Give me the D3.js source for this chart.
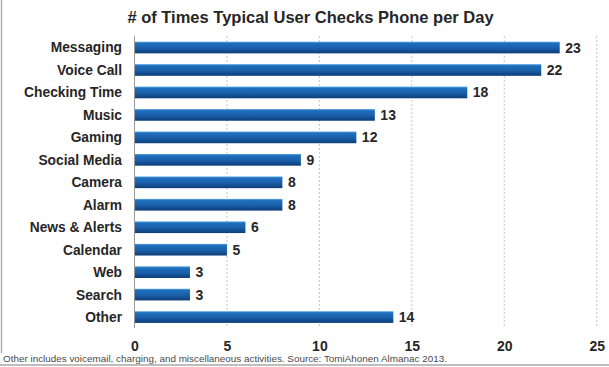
<!DOCTYPE html>
<html>
<head>
<meta charset="utf-8">
<script src="https://cdn.jsdelivr.net/npm/d3@7"></script>
<style>
  body { margin: 0; background: #fff; }
  svg { display: block; font-family: "Liberation Sans", Arial, sans-serif; }
  .cat { font-weight: bold; font-size: 13.8px; fill: #262626; }
  .val { font-weight: bold; font-size: 14px; fill: #262626; }
  .tick text { font-weight: bold; font-size: 14px; fill: #262626; }
</style>
</head>
<body>
<svg id="chart" width="609" height="367"></svg>
<script>
// data
const categories = ["Messaging", "Voice Call", "Checking Time", "Music", "Gaming", "Social Media",
  "Camera", "Alarm", "News & Alerts", "Calendar", "Web", "Search", "Other"];
const checksPerDay = [23, 22, 18, 13, 12, 9, 8, 8, 6, 5, 3, 3, 14];
const xTicks = [0, 5, 10, 15, 20, 25];
const title = "# of Times Typical User Checks Phone per Day";
const footnote = "Other includes voicemail, charging, and miscellaneous activities. Source: TomiAhonen Almanac 2013.";

const svg = d3.select("#chart");
const W = 609, H = 367;
const plotLeft = 134.5, plotRight = 596.7, plotTop = 36, plotBottom = 328;

const x = d3.scaleLinear().domain([0, 25]).range([plotLeft, plotRight]);
const y = d3.scaleBand()
  .domain(categories)
  .range([36.3, 328.3])
  .paddingInner(0.48)
  .paddingOuter(0.24);

const defs = svg.append("defs");
const grad = defs.append("linearGradient")
  .attr("id", "barGrad").attr("x1", 0).attr("y1", 0).attr("x2", 0).attr("y2", 1);
grad.append("stop").attr("offset", "0%").attr("stop-color", "#5aa9e6");
grad.append("stop").attr("offset", "14%").attr("stop-color", "#1f6fbd");
grad.append("stop").attr("offset", "55%").attr("stop-color", "#1a5fa8");
grad.append("stop").attr("offset", "100%").attr("stop-color", "#0c3d78");

// frame
svg.append("line").attr("x1", 1.5).attr("x2", 1.5).attr("y1", 0).attr("y2", 353)
  .attr("stroke", "#b0b0b0").attr("stroke-width", 1.5);
svg.append("line").attr("x1", 0).attr("x2", W).attr("y1", 365).attr("y2", 365)
  .attr("stroke", "#a8a8a8").attr("stroke-width", 1.5);

// title
svg.append("text")
  .attr("x", 310.5).attr("y", 23)
  .attr("text-anchor", "middle")
  .attr("font-weight", "bold").attr("font-size", 16.5).attr("fill", "#262626")
  .text(title);

// gridlines
svg.append("g").selectAll("line")
  .data(xTicks.filter(d => d > 0))
  .join("line")
  .attr("x1", d => x(d)).attr("x2", d => x(d))
  .attr("y1", plotTop).attr("y2", plotBottom)
  .attr("stroke", "#c4c4c4").attr("stroke-width", 1)
  .attr("stroke-dasharray", "2,2");

// x axis labels
const xAxis = d3.axisBottom(x).tickValues(xTicks).tickSize(0).tickPadding(0);
svg.append("g")
  .attr("transform", `translate(0,${351})`)
  .call(xAxis)
  .call(g => g.select(".domain").remove())
  .call(g => g.selectAll("text").attr("dy", 0));

// bars
svg.append("g").selectAll("rect")
  .data(categories)
  .join("rect")
  .attr("x", x(0))
  .attr("y", d => y(d))
  .attr("width", (d, i) => x(checksPerDay[i]) - x(0))
  .attr("height", y.bandwidth())
  .attr("fill", "url(#barGrad)");

// value axis line
svg.append("line").attr("x1", x(0)).attr("x2", x(0)).attr("y1", plotTop).attr("y2", plotBottom)
  .attr("stroke", "#9a9a9a").attr("stroke-width", 1);

// category labels
svg.append("g").selectAll("text")
  .data(categories)
  .join("text")
  .attr("class", "cat")
  .attr("x", 122)
  .attr("y", d => y(d) + y.bandwidth() / 2)
  .attr("dy", "0.36em")
  .attr("text-anchor", "end")
  .text(d => d);

// value labels
svg.append("g").selectAll("text")
  .data(categories)
  .join("text")
  .attr("class", "val")
  .attr("x", (d, i) => x(checksPerDay[i]) + 5.5)
  .attr("y", d => y(d) + y.bandwidth() / 2)
  .attr("dy", "0.36em")
  .text((d, i) => checksPerDay[i]);

// footnote
svg.append("text")
  .attr("x", 3).attr("y", 361.5)
  .attr("font-size", 9.9).attr("fill", "#4a4a4a")
  .text(footnote);
</script>
</body>
</html>
